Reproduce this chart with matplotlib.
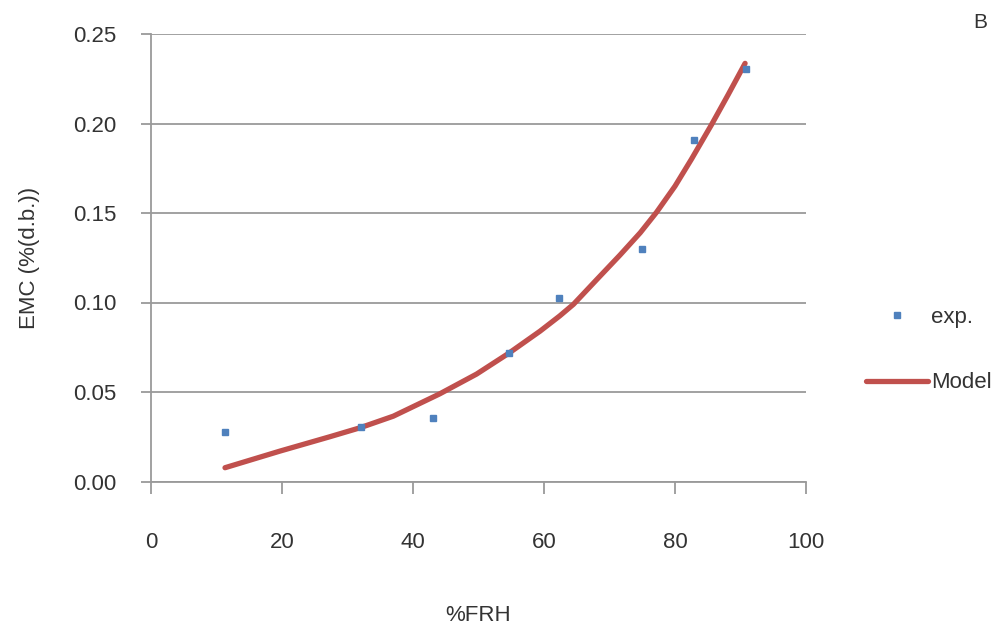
import matplotlib
matplotlib.use("Agg")
import matplotlib.pyplot as plt

plt.rcParams['font.family'] = ['Liberation Sans', 'DejaVu Sans']

# experimental points
exp_x = [11.3, 32.1, 43.1, 54.6, 62.3, 74.9, 82.9, 90.8]
exp_y = [0.0277, 0.0304, 0.0353, 0.0716, 0.1023, 0.1297, 0.1908, 0.2304]

# model curve
model_x = [11.3, 19.7, 27.3, 31.9, 37.0, 44.1, 49.7, 54.6, 59.4, 62.4, 64.5,
           68.0, 71.6, 74.7, 77.2, 80.0, 82.5, 85.6, 88.1, 90.7]
model_y = [0.0077, 0.0170, 0.0250, 0.0300, 0.0365, 0.0490, 0.0600, 0.0716, 0.0840,
           0.0925, 0.0990, 0.1126, 0.1265, 0.1390, 0.1505, 0.1650, 0.1800, 0.1995,
           0.2160, 0.2336]

xticks = [0, 20, 40, 60, 80, 100]
yticks = [0.00, 0.05, 0.10, 0.15, 0.20, 0.25]

grid_c = '#9a9a9a'
txt_c = '#333333'
fs = 16

fig = plt.figure(figsize=(10.01, 6.26), dpi=100)
ax = fig.add_axes([151/1001, 1 - 481.5/626, (806-151)/1001, (481.5-34)/626])

ax.plot(model_x, model_y, color='#C0504D', lw=3.8, solid_capstyle='round',
        solid_joinstyle='round', label='Model', zorder=3)
ax.plot(exp_x, exp_y, ls='none', marker='s', ms=5, color='#4F81BD', label='exp.', zorder=4)

ax.set_xlim(0, 100)
ax.set_ylim(0, 0.25)
ax.set_xticks(xticks)
ax.set_yticks(yticks)
ax.set_yticklabels([f"{v:.2f}" for v in yticks])
ax.set_xticklabels([str(v) for v in xticks])

ax.yaxis.grid(True, color=grid_c, lw=1.3)
ax.set_axisbelow(True)
for s in ['top', 'right']:
    ax.spines[s].set_visible(False)
for s in ['left', 'bottom']:
    ax.spines[s].set_color(grid_c)
    ax.spines[s].set_linewidth(1.3)

ax.tick_params(axis='y', direction='out', length=7, width=1.3, color=grid_c, pad=18,
               labelsize=fs, labelcolor=txt_c)
ax.tick_params(axis='x', direction='out', length=8.5, width=1.3, color=grid_c, pad=28,
               labelsize=fs, labelcolor=txt_c)

ax.set_xlabel('%FRH', fontsize=fs, color=txt_c, labelpad=37)
ax.set_ylabel('EMC (%(d.b.))', fontsize=fs, color=txt_c, labelpad=24)

handles, labels = ax.get_legend_handles_labels()
leg = fig.legend([handles[1], handles[0]], [labels[1], labels[0]],
                 loc='upper left', bbox_to_anchor=(866/1001, 1 - 307/626),
                 frameon=False, fontsize=fs, borderpad=0, borderaxespad=0,
                 handlelength=2.8, handletextpad=0.12, labelspacing=2.0)
for t in leg.get_texts():
    t.set_color(txt_c)

fig.text(980/1001, 1 - 23/626, 'B', fontsize=15, color=txt_c, ha='center', va='center')

fig.savefig('out.png', dpi=100)
